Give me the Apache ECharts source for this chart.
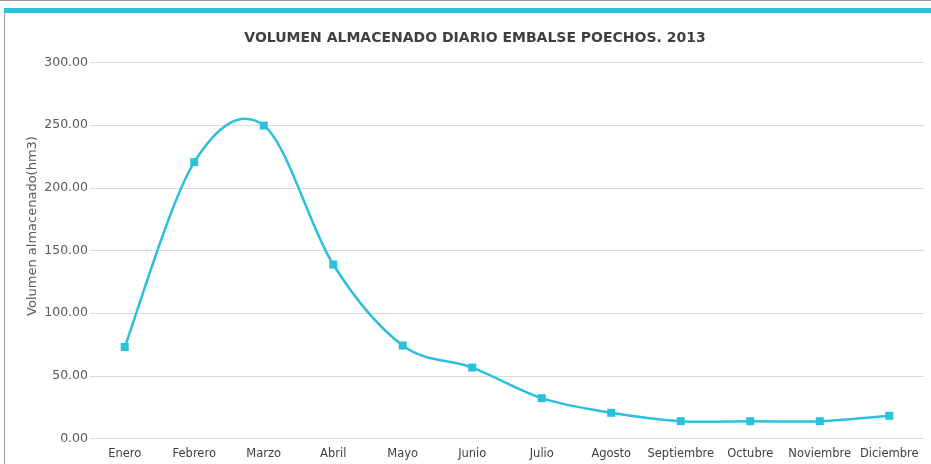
<!DOCTYPE html>
<html><head><meta charset="utf-8">
<script src="https://cdn.jsdelivr.net/npm/echarts@6/dist/echarts.min.js"></script>
<style>html,body{margin:0;padding:0;background:#fff}#c{width:931px;height:464px}</style>
</head><body><div id="c"></div>
<script>
const categories = ['Enero','Febrero','Marzo','Abril','Mayo','Junio','Julio','Agosto','Septiembre','Octubre','Noviembre','Diciembre'];
const volumen = [73.0, 220.5, 249.7, 138.8, 74.2, 56.6, 32.2, 20.5, 13.8, 13.8, 13.8, 18.1];
const yTicks = [0, 50, 100, 150, 200, 250, 300];

const LINE = '#29C1DB';
const FONT = 'DejaVu Sans';

function renderCurve(params, api) {
  if (params.dataIndex !== 0) return null;
  const pts = volumen.map((v, i) => api.coord([i, v]));
  const n = pts.length;
  const P = i => pts[Math.max(0, Math.min(n - 1, i))];
  const children = [];
  for (let i = 0; i < n - 1; i++) {
    const p0 = P(i - 1), p1 = P(i), p2 = P(i + 1), p3 = P(i + 2);
    children.push({
      type: 'bezierCurve',
      shape: {
        x1: p1[0], y1: p1[1], x2: p2[0], y2: p2[1],
        cpx1: p1[0] + (p2[0] - p0[0]) / 6, cpy1: p1[1] + (p2[1] - p0[1]) / 6,
        cpx2: p2[0] - (p3[0] - p1[0]) / 6, cpy2: p2[1] - (p3[1] - p1[1]) / 6
      },
      style: {stroke: LINE, lineWidth: 2.5, fill: null}
    });
  }
  return {type: 'group', children};
}

const chart = echarts.init(document.getElementById('c'));
chart.setOption({
  animation: false,
  title: {
    text: 'VOLUMEN ALMACENADO DIARIO EMBALSE POECHOS. 2013',
    left: 470, top: 26, textAlign: 'center',
    textStyle: {fontFamily: FONT, fontWeight: 'bold', fontSize: 14, color: '#404040'}
  },
  graphic: [
    {type: 'rect', shape: {x: 0, y: 0, width: 931, height: 1}, style: {fill: '#999'}},
    {type: 'rect', shape: {x: 4, y: 8, width: 927, height: 5}, style: {fill: LINE}},
    {type: 'rect', shape: {x: 4, y: 13, width: 1, height: 451}, style: {fill: '#9a9a9a'}},
    {type: 'text', x: 33, y: 226, rotation: Math.PI / 2,
     style: {text: 'Volumen almacenado(hm3)', fill: '#595959', font: '13px "DejaVu Sans"',
             textAlign: 'center', textVerticalAlign: 'middle'}}
  ],
  grid: {left: 90, right: 7, top: 62.5, bottom: 25.5},
  xAxis: {
    type: 'category', data: categories, boundaryGap: true,
    axisLine: {show: false}, axisTick: {show: false},
    axisLabel: {color: '#404040', fontFamily: FONT, fontSize: 11.5, margin: 10, interval: 0}
  },
  yAxis: {
    type: 'value', min: yTicks[0], max: yTicks[yTicks.length-1], interval: 50,
    axisLine: {show: false}, axisTick: {show: false},
    axisLabel: {color: '#595959', fontFamily: FONT, fontSize: 12.5, margin: 2,
      formatter: v => v.toFixed(2)},
    splitLine: {lineStyle: {color: '#d9d9d9', width: 1}}
  },
  series: [
    {type: 'custom', data: volumen, renderItem: renderCurve, z: 2, silent: true},
    {type: 'scatter', data: volumen, symbol: 'rect', symbolSize: 8,
     itemStyle: {color: LINE, opacity: 1}, z: 3}
  ]
});
</script></body></html>
